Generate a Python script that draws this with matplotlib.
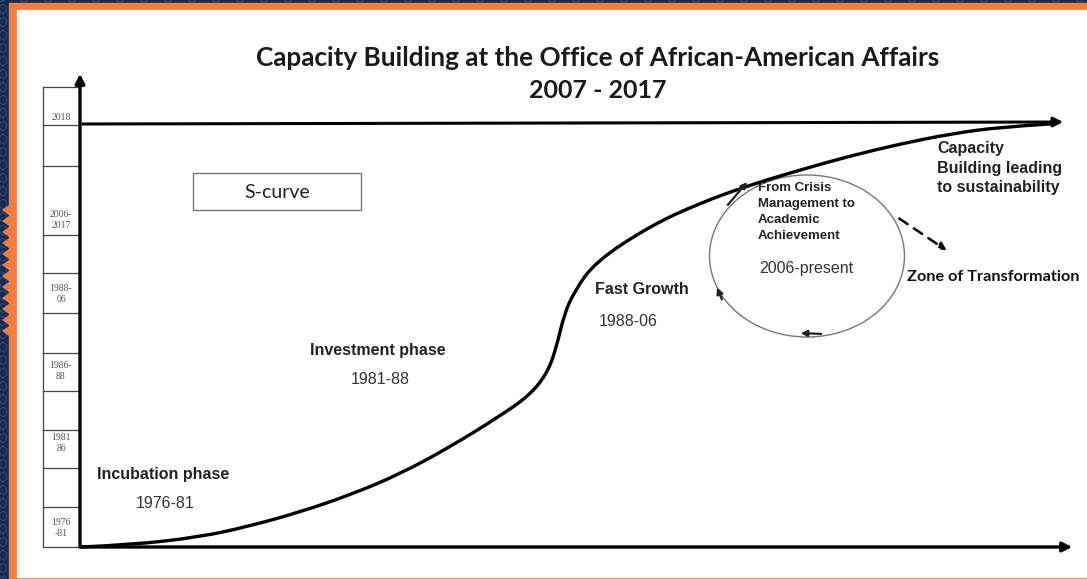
import matplotlib.pyplot as plt
from matplotlib.patches import Rectangle, Ellipse, FancyArrowPatch, PathPatch
from matplotlib.path import Path

# ---- data (pixel coordinates of the original diagram) ----
curve_x = [80, 130, 200, 250, 300, 350, 400, 450, 500, 530, 548, 557, 564, 574,
           595, 650, 700, 750, 800, 850, 900, 950, 1000, 1050]
curve_y = [547, 545, 537, 526, 512, 495, 474, 447, 416, 395, 372, 345, 315, 292,
           262, 226, 203, 185, 170, 156, 144, 134, 127, 124]

col_lines = [87, 125, 166, 235, 273, 313, 353, 391, 430, 468, 507, 547]
col_labels = ["2018", "2006-\n2017", "1988-\n06", "1986-\n88", "1981\n86", "1976\n-81"]
col_label_y = [117, 220, 294, 371, 443, 528]

phase_names = ["Incubation phase", "Investment phase", "Fast Growth"]
phase_years = ["1976-81", "1981-88", "1988-06"]
phase_name_xy = [(97, 474), (310, 350), (595, 290)]
phase_year_xy = [(165, 503), (380, 380), (628, 321)]

ORANGE = '#F37C3F'
NAVY = '#182B4E'

fig = plt.figure(figsize=(10.87, 5.79), dpi=100)
ax = fig.add_axes([0, 0, 1, 1])
ax.set_xlim(0, 1087)
ax.set_ylim(579, 0)
ax.axis('off')

# frame: navy background with faint pattern, orange border, white page
ax.add_patch(Rectangle((0, 0), 1087, 579, color=NAVY, zorder=0))
for yy in range(-4, 584, 13):
    ax.add_patch(Ellipse((3, yy), 7, 9, fill=False, ec='#3A5282', lw=0.6, zorder=0.5))
for xx in range(0, 1090, 24):
    ax.add_patch(Ellipse((xx, -1), 8, 6, fill=False, ec='#3A5282', lw=0.6, zorder=0.5))
ax.add_patch(Rectangle((9, 3), 1078, 576, color=ORANGE, zorder=1))
for yy in range(205, 330, 11):
    ax.fill([9, 2, 9], [yy, yy + 5, yy + 10], color=ORANGE, lw=0, zorder=1)
ax.add_patch(Rectangle((17, 10), 1070, 567, color='white', zorder=2))

# title
ax.text(598, 58, "Capacity Building at the Office of African-American Affairs",
        ha='center', va='center', fontsize=18.8, fontweight='bold', family='Lato',
        color='#1a1a1a', zorder=5)
ax.text(598, 90, "2007 - 2017", ha='center', va='center', fontsize=18,
        fontweight='bold', family='Lato', color='#1a1a1a', zorder=5)

# left column of year boxes
ax.plot([43, 43], [col_lines[0], col_lines[-1]], color='#444444', lw=0.9, zorder=3)
for yy in col_lines:
    ax.plot([43, 80], [yy, yy], color='#444444', lw=0.9, zorder=3)
for lab, yy in zip(col_labels, col_label_y):
    ax.text(61, yy, lab, ha='center', va='center', fontsize=7, color='#555555',
            family='Liberation Serif', linespacing=1.15, zorder=4)

# axes with arrows
arrow_kw = dict(arrowstyle='-|>', mutation_scale=14, color='black', zorder=6)
ax.add_patch(FancyArrowPatch((80, 549), (80, 71), lw=2.4, **arrow_kw))
ax.add_patch(FancyArrowPatch((78, 547), (1075, 547), lw=2.4, **arrow_kw))
ax.add_patch(FancyArrowPatch((80, 124), (1066, 122), lw=2.2, **arrow_kw))

# S-curve (smoothed through the read points)
pts = list(zip(curve_x, curve_y))
verts = [pts[0]]
codes = [Path.MOVETO]
for i in range(1, len(pts) - 2):
    mid = ((pts[i][0] + pts[i + 1][0]) / 2, (pts[i][1] + pts[i + 1][1]) / 2)
    verts += [pts[i], mid]
    codes += [Path.CURVE3, Path.CURVE3]
verts += [pts[-2], pts[-1]]
codes += [Path.CURVE3, Path.CURVE3]
ax.add_patch(PathPatch(Path(verts, codes), fill=False, lw=2.4, color='black',
                       capstyle='round', zorder=6))

# S-curve box
ax.add_patch(Rectangle((193, 173), 168, 37, fill=False, ec='#777777', lw=1.0, zorder=4))
ax.text(277, 192, "S-curve", ha='center', va='center', fontsize=14,
        family='Lato', color='#222222', zorder=5)

# phase labels
for name, (nx_, ny_) in zip(phase_names, phase_name_xy):
    ax.text(nx_, ny_, name, ha='left', va='center', fontsize=11.5, fontweight='bold',
            family='Liberation Sans', color='#222222', zorder=5)
for yr, (yx, yy) in zip(phase_years, phase_year_xy):
    ax.text(yx, yy, yr, ha='center', va='center', fontsize=11.5,
            family='Liberation Sans', color='#333333', zorder=5)

# cycle circle
ax.add_patch(Ellipse((807, 256), 195, 162, fill=False, ec='#777777', lw=1.0, zorder=4))
small_kw = dict(arrowstyle='-|>', mutation_scale=9, color='#222222', lw=1.6, zorder=6)
ax.add_patch(FancyArrowPatch((726, 207), (749, 180), **small_kw))
ax.add_patch(FancyArrowPatch((723, 302), (716, 285), **small_kw))
ax.add_patch(FancyArrowPatch((824, 334), (798, 333), **small_kw))

ax.text(758, 212, "From Crisis\nManagement to\nAcademic\nAchievement", ha='left',
        va='center', fontsize=9.5, fontweight='bold', family='Liberation Sans',
        color='#222222', linespacing=1.45, zorder=5)
ax.text(759, 268, "2006-present", ha='left', va='center', fontsize=11.5,
        family='Liberation Sans', color='#333333', zorder=5)

ax.text(937, 168, "Capacity\nBuilding leading\nto sustainability", ha='left',
        va='center', fontsize=11.5, fontweight='bold', family='Liberation Sans',
        color='#222222', linespacing=1.36, zorder=5)

# dashed arrow to zone of transformation
ax.add_patch(FancyArrowPatch((897, 217), (949, 252), arrowstyle='-|>',
                             mutation_scale=11, color='black', lw=1.8,
                             linestyle=(0, (4, 3)), zorder=6))
ax.text(907, 277, "Zone of Transformation", ha='left', va='center', fontsize=11.7,
        fontweight='bold', family='Lato', color='#111111', zorder=5)

fig.savefig('out.png', dpi=100)
